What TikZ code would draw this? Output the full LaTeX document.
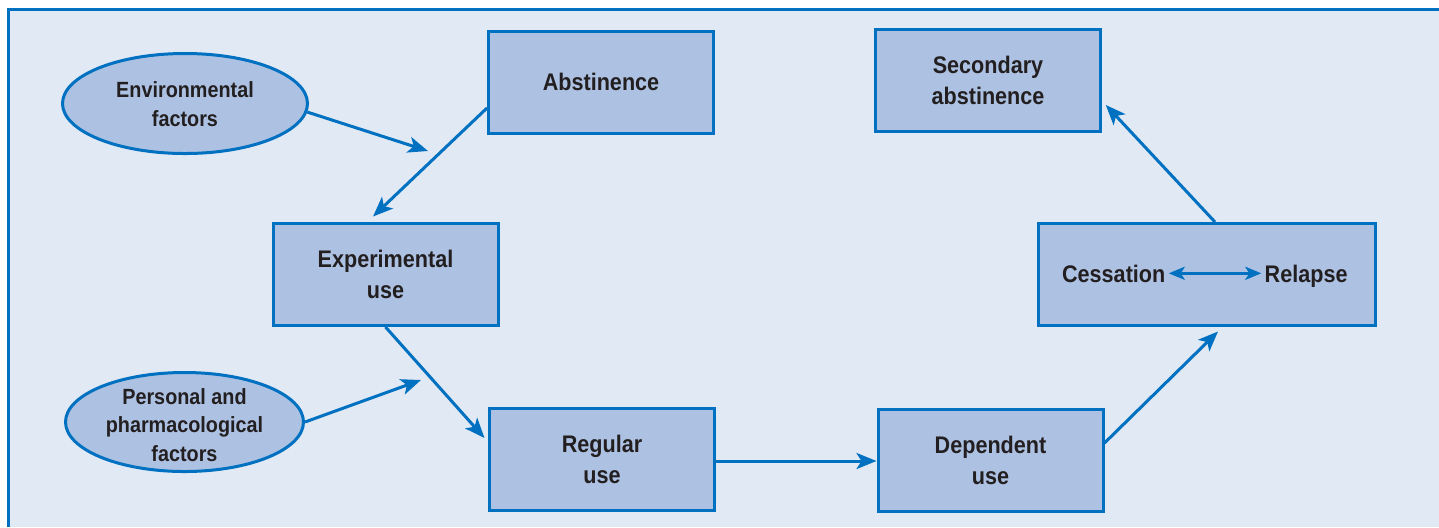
\documentclass[tikz,border=0pt]{standalone}
\usepackage{fontspec}
\setmainfont{Liberation Sans}[FakeStretch=0.9]
\usetikzlibrary{shapes.geometric,arrows.meta}
\definecolor{lineblue}{RGB}{0,112,192}
\definecolor{boxblue}{RGB}{173,194,227}
\definecolor{bgblue}{RGB}{225,233,245}
\definecolor{txtgray}{RGB}{35,31,32}
\tikzset{
	stagebox/.style={
		draw=lineblue,
		fill=boxblue,
		line width=1.5pt,
		minimum width=112.5pt,
		minimum height=51pt,
		inner sep=0pt,
		align=center,
		text=txtgray,
		font=\bfseries\fontsize{12}{15.5}\selectfont
	},
	stagetext/.style={
		inner sep=1.5pt,
		text=txtgray,
		font=\bfseries\fontsize{12}{15.5}\selectfont
	},
	factoroval/.style={
		ellipse,
		draw=lineblue,
		fill=boxblue,
		line width=1.5pt,
		inner sep=0pt
	},
	factortext/.style={
		align=center,
		text=txtgray,
		font=\bfseries\fontsize{11}{14.25}\selectfont
	},
	flow/.style={
		draw=lineblue,
		line width=1.5pt,
		-{Stealth[length=10pt,width=8pt,inset=2.5pt]}
	}
}

\begin{document}
\begin{tikzpicture}[x=0.5pt,y=-0.5pt]
			\useasboundingbox (0,0) rectangle (1439,527);
			\fill[bgblue] (8.5,9.5) rectangle (1439,527);
			\draw[lineblue, line width=1.5pt] (1439,9.5) -- (8.5,9.5) -- (8.5,527);

			\node[stagebox] (abst) at (601,82) {Abstinence};
			\node[stagebox] (sec) at (988,80) {Secondary\\abstinence};
			\node[stagebox] (exp) at (385.5,274.5) {Experimental\\use};
			\node[stagebox, minimum width=168.5pt] (cess) at (1207,274.5) {};
			\node[stagebox] (reg) at (602,459) {Regular\\use};
			\node[stagebox] (dep) at (990.5,460) {Dependent\\use};

			\node[stagetext, anchor=base west] (cesstxt) at (1058.7,282.3) {Cessation};
			\node[stagetext, anchor=base west] (relapse) at (1261.3,282.3) {Relapse};

			\node[factoroval, minimum width=122.5pt, minimum height=50pt] (env) at (185,103.5) {};
			\node[factortext] (envtxt) at (185,104) {Environmental\\factors};
			\node[factoroval, minimum width=119pt, minimum height=49.5pt] (pers) at (184.5,422) {};
			\node[factortext] (perstxt) at (184.5,425) {Personal and\\pharmacological\\factors};

			\coordinate (envend) at (428,151);
			\coordinate (persend) at (421,380);

			\draw[flow] (env.-4) -- (envend);
			\draw[flow] (pers.east) -- (persend);
			\draw[flow] ([yshift=-13pt]abst.west) -- ([xshift=-6.25pt,yshift=2.75pt]exp.north);
			\draw[flow] (exp.south) -- ([xshift=-1.75pt,yshift=10.5pt]reg.west);
			\draw[flow] ([yshift=-1pt]reg.east) -- ([yshift=-1pt]reg.east -| dep.west);
			\draw[flow] ([yshift=8.5pt]dep.east) -- ([xshift=5.5pt,yshift=-2.25pt]cess.south);
			\draw[flow] ([xshift=4pt]cess.north) -- ([xshift=1.9pt,yshift=-12.5pt]sec.east);
			\draw[draw=lineblue, line width=1.5pt, {Stealth[length=8pt,width=6.5pt,inset=2pt]}-{Stealth[length=8pt,width=6.5pt,inset=2pt]}]
				([yshift=4.5pt]cesstxt.base east) -- ([yshift=4.5pt]relapse.base west);

		\end{tikzpicture}
\end{document}
